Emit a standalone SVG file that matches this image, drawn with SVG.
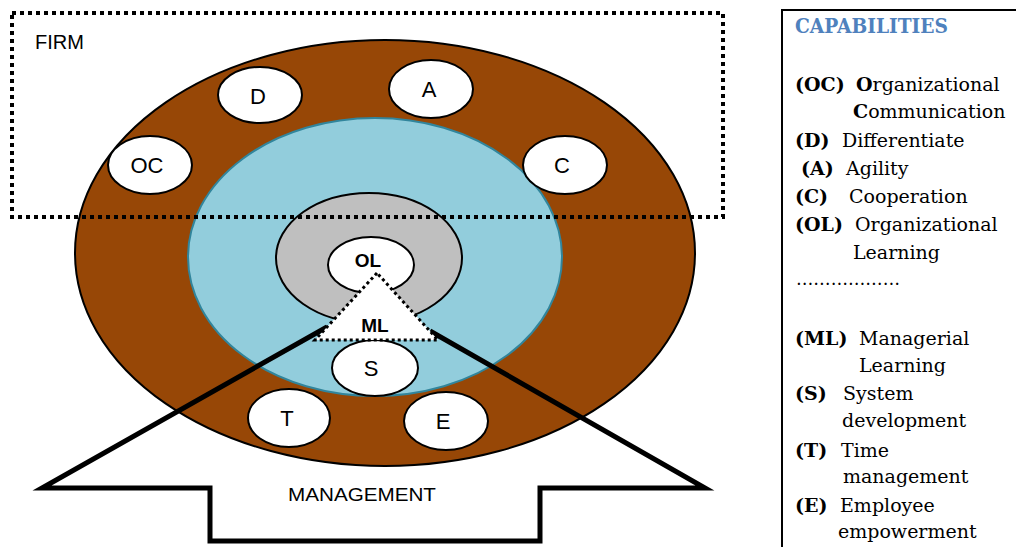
<svg xmlns="http://www.w3.org/2000/svg" width="1016" height="547" viewBox="0 0 1016 547">
<style>
.node{fill:#fff;stroke:#000;stroke-width:2}
.lbl{font-family:"Liberation Sans",Arial,sans-serif;font-size:22px;fill:#000;text-anchor:middle}
.blbl{font-family:"Liberation Sans",Arial,sans-serif;font-size:19px;font-weight:bold;fill:#000;text-anchor:middle}
.leg{font-family:"DejaVu Serif","Liberation Serif",serif;font-size:19px;fill:#000}
.b{font-weight:bold}
</style>
<rect x="0" y="0" width="1016" height="547" fill="#fff"/>

<g id="rings">
  <ellipse cx="385" cy="253" rx="310" ry="213" fill="#974706" stroke="#000" stroke-width="2"/>
  <ellipse cx="375" cy="257" rx="187" ry="139" fill="#92CDDC" stroke="#31859C" stroke-width="2"/>
  <ellipse cx="369" cy="258" rx="93" ry="65" fill="#BFBFBF" stroke="#000" stroke-width="2"/>
</g>

<g id="node-OC"><ellipse class="node" cx="150" cy="165" rx="42" ry="29"/><text class="lbl" x="147" y="173">OC</text></g>
<g id="node-D"><ellipse class="node" cx="260" cy="95" rx="42" ry="28"/><text class="lbl" x="258" y="104">D</text></g>
<g id="node-A"><ellipse class="node" cx="431" cy="89" rx="42" ry="29"/><text class="lbl" x="429" y="97">A</text></g>
<g id="node-C"><ellipse class="node" cx="565" cy="165" rx="42" ry="29"/><text class="lbl" x="562" y="173">C</text></g>
<g id="node-OL"><ellipse class="node" cx="371" cy="265" rx="43" ry="28"/><text class="blbl" x="368" y="267">OL</text></g>

<g id="management-arrow">
  <polyline points="327,327 42,488 210,488 210,541 540,541 540,488 705,488 430,331" fill="none" stroke="#000" stroke-width="5" stroke-linejoin="miter" stroke-miterlimit="20"/>
  <text x="362" y="501" font-family="'Liberation Sans',Arial,sans-serif" font-size="19" text-anchor="middle" textLength="148" lengthAdjust="spacingAndGlyphs">MANAGEMENT</text>
</g>

<g id="node-S"><ellipse class="node" cx="375" cy="368" rx="43" ry="28"/><text class="lbl" x="371" y="376">S</text></g>
<g id="node-ML"><polygon points="377,273 315,340 438,340" fill="#fff" stroke="#000" stroke-width="3" stroke-dasharray="3 3"/><text class="blbl" x="375" y="332">ML</text></g>
<g id="node-T"><ellipse class="node" cx="289" cy="418" rx="41" ry="29"/><text class="lbl" x="287" y="426">T</text></g>
<g id="node-E"><ellipse class="node" cx="446" cy="421" rx="42" ry="29"/><text class="lbl" x="443" y="429">E</text></g>

<g id="firm">
  <rect x="12" y="13" width="711" height="204" fill="none" stroke="#000" stroke-width="4" stroke-dasharray="4 4"/>
  <text x="35" y="49" font-family="'Liberation Sans',Arial,sans-serif" font-size="20">FIRM</text>
</g>

<g id="legend">
  <rect x="782" y="10" width="250" height="560" fill="#fff" stroke="#000" stroke-width="2"/>
  <text x="795" y="33" font-family="'DejaVu Serif','Liberation Serif',serif" font-size="20" font-weight="bold" fill="#4F81BD" textLength="153" lengthAdjust="spacingAndGlyphs">CAPABILITIES</text>
  <text class="leg" x="795" y="91"><tspan class="b">(OC)</tspan><tspan x="856" class="b">O</tspan>rganizational</text>
  <text class="leg" x="853" y="118"><tspan class="b">C</tspan>ommunication</text>
  <text class="leg" x="795" y="147"><tspan class="b">(D)</tspan><tspan x="842">Differentiate</tspan></text>
  <text class="leg" x="801" y="175"><tspan class="b">(A)</tspan><tspan x="846">Agility</tspan></text>
  <text class="leg" x="795" y="203"><tspan class="b">(C)</tspan><tspan x="849">Cooperation</tspan></text>
  <text class="leg" x="795" y="231"><tspan class="b">(OL)</tspan><tspan x="855">Organizational</tspan></text>
  <text class="leg" x="853" y="259">Learning</text>
  <text class="leg" x="796" y="285" textLength="104" lengthAdjust="spacingAndGlyphs">………………</text>
  <text class="leg" x="795" y="345"><tspan class="b">(ML)</tspan><tspan x="859">Managerial</tspan></text>
  <text class="leg" x="859" y="372">Learning</text>
  <text class="leg" x="795" y="400"><tspan class="b">(S)</tspan><tspan x="843">System</tspan></text>
  <text class="leg" x="842" y="427">development</text>
  <text class="leg" x="795" y="457"><tspan class="b">(T)</tspan><tspan x="841">Time</tspan></text>
  <text class="leg" x="843" y="483">management</text>
  <text class="leg" x="795" y="512"><tspan class="b">(E)</tspan><tspan x="840">Employee</tspan></text>
  <text class="leg" x="838" y="538">empowerment</text>
</g>
</svg>
